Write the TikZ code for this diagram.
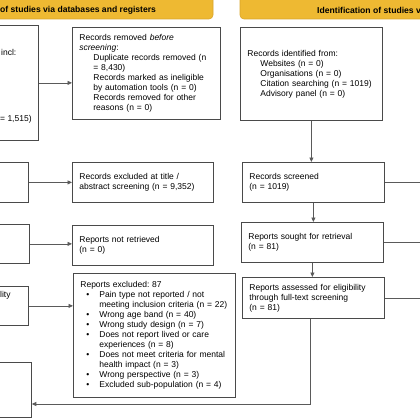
\documentclass[tikz,border=0pt]{standalone}
\usepackage{fontspec}
\setmainfont{Liberation Sans}
\usetikzlibrary{arrows.meta}
\definecolor{bannerfill}{HTML}{EEB932}
\definecolor{bannerdraw}{HTML}{D9A52A}
\definecolor{boxc}{HTML}{4A4A4A}
\definecolor{linec}{HTML}{5A5A5A}
\newcommand\myind{\hspace*{14pt}}
\newcommand\rind{\hspace*{13pt}}
\newcommand\blt{\makebox[19pt][l]{\hspace*{6pt}•}}
\newcommand\cnt{\hspace*{19pt}}
\frenchspacing
\begin{document}
\begin{tikzpicture}[x=1pt,y=-1pt,
  box/.style={draw=boxc, line width=0.8pt, fill=white, anchor=north west,
    align=left, inner xsep=7pt, inner ysep=0pt,
    font=\fontsize{8.5}{10}\selectfont\frenchspacing},
  bx/.style 2 args={text width=#1, minimum height=#2},
  banner/.style={draw=bannerdraw, fill=bannerfill, rounded corners=4pt, line width=0.6pt},
  btext/.style={font=\fontsize{8.6}{10}\selectfont\bfseries, inner sep=0pt, anchor=west},
  frag/.style={font=\fontsize{8.5}{10}\selectfont, inner sep=0pt, anchor=west},
  arr/.style={draw=linec, line width=0.8pt, -{Triangle[length=4.5pt,width=4pt]}},
  ln/.style={draw=linec, line width=0.8pt}]
\useasboundingbox (0,0) rectangle (420,420);
\clip (0,0) rectangle (420,420);
\fill[white] (0,0) rectangle (420,420);
% banners
\draw[banner] (-30,-6) rectangle (213,19);
\node[btext] (bl) at (0,10) {of studies via databases and registers};
\draw[banner] (240,-6) rectangle (460,19);
\node[btext] (br) at (317,10) {Identification of studies v};
% left column (partly outside)
\node[box, bx={174pt}{115pt}] (db) at (-150,25) {};
\node[frag] (dbt1) at (1,52) {incl:};
\node[frag] (dbt2) at (0,119) {= 1,515)};
\node[box, bx={164pt}{40pt}] (scrL) at (-150,162) {};
\node[box, bx={165pt}{39pt}] (soughtL) at (-150,224) {};
\node[box, bx={164pt}{39pt}] (assL) at (-150,286) {};
\node[frag] (asst) at (0,295) {lity};
\node[box, bx={167pt}{55pt}] (incl) at (-150,362) {};
% middle column
\node[box, bx={134pt}{92pt}] (rem) at (72,27) {Records removed \textit{before}\\\textit{screening}:\\
\myind Duplicate records removed (n\\\myind = 8,430)\\
\myind Records marked as ineligible\\\myind by automation tools (n = 0)\\
\myind Records removed for other\\\myind reasons (n = 0)};
\node[box, bx={127pt}{40pt}] (exc) at (72,162) {Records excluded at title /\\abstract screening (n = 9,352)};
\node[box, bx={127pt}{40pt}] (notret) at (72,225) {Reports not retrieved\\(n = 0)};
\node[box, bx={148pt}{124pt}] (rexc) at (73,273) {Reports excluded: 87\\
\blt Pain type not reported / not\\\cnt meeting inclusion criteria (n = 22)\\
\blt Wrong age band (n = 40)\\
\blt Wrong study design (n = 7)\\
\blt Does not report lived or care\\\cnt experiences (n = 8)\\
\blt Does not meet criteria for mental\\\cnt health impact (n = 3)\\
\blt Wrong perspective (n = 3)\\
\blt Excluded sub-population (n = 4)};
% right column
\node[box, bx={128pt}{93pt}] (oth) at (240,27) {Records identified from:\\
\rind Websites (n = 0)\\\rind Organisations (n = 0)\\\rind Citation searching (n = 1019)\\\rind Advisory panel (n = 0)};
\node[box, bx={128pt}{40pt}] (scrR) at (242,162) {Records screened\\(n = 1019)};
\node[box, bx={128pt}{40pt}] (soughtR) at (241,222) {Reports sought for retrieval\\(n = 81)};
\node[box, bx={128pt}{41pt}] (assR) at (242,277) {Reports assessed for eligibility\\through full-text screening\\(n = 81)};
% connectors
\coordinate (edge) at (440,0);
\coordinate (turn) at (310,404);
\draw[arr] (db.east) -- (db.east -| rem.west);
\draw[arr] (scrL.east) -- (scrL.east -| exc.west);
\draw[arr] (soughtL.east) -- (soughtL.east -| notret.west);
\draw[arr] (assL.east) -- (assL.east -| rexc.west);
\draw[arr] (oth.south) -- (oth.south |- scrR.north);
\draw[arr] (scrR.south) -- (scrR.south |- soughtR.north);
\draw[arr] (soughtR.south) -- (soughtR.south |- assR.north);
\draw[arr] (turn |- assR.south) -- (turn) -- (turn -| incl.east);
\draw[ln] (scrR.east) -- (scrR.east -| edge);
\draw[ln] (soughtR.east) -- (soughtR.east -| edge);
\draw[ln] (assR.east) -- (assR.east -| edge);
\end{tikzpicture}
\end{document}
